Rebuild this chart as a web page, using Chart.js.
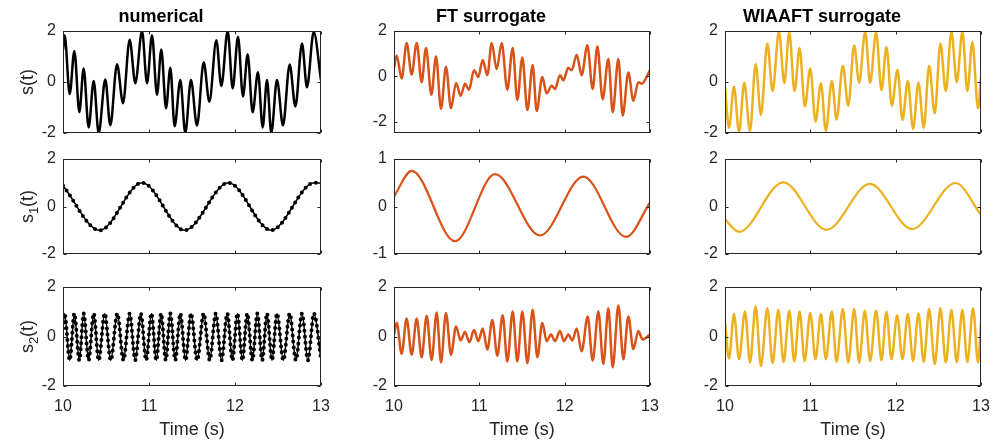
<!DOCTYPE html>
<html>
<head>
<meta charset="utf-8">
<script src="https://cdn.jsdelivr.net/npm/chart.js@4.4.0/dist/chart.umd.min.js"></script>
<style>
  body { margin: 0; background: #fff; width: 997px; height: 444px; position: relative; overflow: hidden; }
  canvas { position: absolute; }
</style>
</head>
<body>
<script>
// ---- values (time in s, signal amplitude) ----
const timeTicks = [10, 11, 12, 13];
const ticks2 = [-2, 0, 2];
const ticks1 = [-1, 0, 1];
const colTitles = ['numerical', 'FT surrogate', 'WIAAFT surrogate'];

// numerical s(t)
const numS_t = [10.000, 10.019, 10.078, 10.132, 10.190, 10.240, 10.298, 10.357, 10.415, 10.492, 10.550, 10.628, 10.698, 10.775, 10.841, 10.919, 10.977, 11.035, 11.093, 11.143, 11.198, 11.248, 11.298, 11.364, 11.422, 11.488, 11.558, 11.636, 11.702, 11.783, 11.841, 11.915, 11.973, 12.035, 12.093, 12.147, 12.205, 12.267, 12.322, 12.372, 12.422, 12.488, 12.558, 12.636, 12.702, 12.779, 12.837, 12.915, 13.000];
const numS_y = [1.25, 1.83, -0.47, 1.22, -1.18, 0.53, -1.78, 0.04, -2.0, 0.10, -1.70, 0.70, -0.83, 1.66, -0.05, 2.0, -0.05, 1.83, -0.50, 1.27, -1.03, 0.56, -1.74, 0.08, -2.0, 0.08, -1.71, 0.77, -0.77, 1.64, -0.16, 2.0, -0.25, 1.77, -0.57, 1.09, -1.19, 0.38, -1.78, 0.08, -2.0, 0.08, -1.70, 0.69, -0.96, 1.51, -0.21, 1.96, 0.08];

// numerical s1(t)
const numS1_t = [10.0, 10.426, 10.919, 11.415, 11.924, 12.419, 12.922, 13.0];
const numS1_y = [0.87, -1.0, 1.0, -1.0, 1.0, -1.0, 1.0, 0.99];

// numerical s2(t)
const numS2_t = [10.0, 10.018, 10.078, 10.132, 10.190, 10.240, 10.298, 10.357, 10.415, 10.485, 10.555, 10.632, 10.703, 10.775, 10.840, 10.905, 10.967, 11.028, 11.085, 11.141, 11.195, 11.248, 11.305, 11.364, 11.425, 11.488, 11.560, 11.636, 11.706, 11.776, 11.843, 11.910, 11.970, 12.028, 12.086, 12.143, 12.202, 12.260, 12.316, 12.372, 12.430, 12.488, 12.562, 12.636, 12.708, 12.779, 12.848, 12.918, 13.0];
const numS2_y = [0.32, 0.93, -0.96, 0.93, -0.96, 0.93, -0.96, 0.93, -0.96, 0.93, -0.96, 0.93, -0.96, 0.93, -0.96, 0.93, -0.96, 0.93, -0.96, 0.93, -0.96, 0.93, -0.96, 0.93, -0.96, 0.93, -0.96, 0.93, -0.96, 0.93, -0.96, 0.93, -0.96, 0.93, -0.96, 0.93, -0.96, 0.93, -0.96, 0.93, -0.96, 0.93, -0.96, 0.93, -0.96, 0.93, -0.96, 0.93, -0.90];

// FT surrogate s(t)
const ftS_t = [10.0, 10.031, 10.090, 10.148, 10.207, 10.266, 10.324, 10.375, 10.438, 10.492, 10.551, 10.609, 10.668, 10.727, 10.781, 10.832, 10.879, 10.938, 10.988, 11.039, 11.094, 11.145, 11.203, 11.262, 11.328, 11.391, 11.445, 11.504, 11.563, 11.625, 11.672, 11.738, 11.789, 11.848, 11.887, 11.945, 11.984, 12.043, 12.082, 12.141, 12.199, 12.266, 12.328, 12.383, 12.445, 12.512, 12.563, 12.629, 12.680, 12.746, 12.805, 12.863, 12.902, 13.0];
const ftS_y = [0.35, 0.92, -0.10, 1.47, 0.08, 1.47, -0.26, 1.25, -0.81, 0.87, -1.43, 0.42, -1.41, -0.29, -0.86, -0.33, -0.59, 0.27, -0.03, 0.72, 0.05, 1.47, 0.32, 1.47, -0.59, 1.25, -1.04, 0.83, -1.49, 0.50, -1.53, -0.03, -0.75, -0.41, -0.56, 0.05, -0.18, 0.38, 0.27, 0.95, 0.05, 1.37, -0.56, 1.32, -1.01, 0.77, -1.58, 0.77, -1.73, 0.17, -1.08, -0.26, -0.33, 0.27];

// FT surrogate s1(t)
const ftS1_t = [10.0, 10.207, 10.715, 11.184, 11.711, 12.219, 12.719, 13.0];
const ftS1_y = [0.21, 0.75, -0.73, 0.68, -0.61, 0.63, -0.64, 0.08];

// FT surrogate s2(t)
const ftS2_t = [10.0, 10.031, 10.090, 10.148, 10.207, 10.266, 10.324, 10.383, 10.441, 10.500, 10.551, 10.609, 10.668, 10.727, 10.781, 10.832, 10.883, 10.938, 10.988, 11.039, 11.094, 11.152, 11.211, 11.273, 11.328, 11.391, 11.445, 11.504, 11.563, 11.625, 11.680, 11.738, 11.789, 11.840, 11.887, 11.945, 11.992, 12.043, 12.090, 12.141, 12.199, 12.270, 12.328, 12.395, 12.453, 12.512, 12.563, 12.629, 12.688, 12.746, 12.805, 12.863, 12.914, 13.0];
const ftS2_y = [0.08, 0.56, -0.70, 0.73, -0.74, 0.73, -0.84, 0.84, -0.95, 0.97, -1.05, 0.95, -0.74, 0.40, -0.16, 0.18, -0.23, 0.26, -0.19, 0.32, -0.53, 0.67, -0.78, 0.86, -1.01, 1.01, -1.01, 1.01, -1.08, 1.08, -0.84, 0.56, -0.19, 0.08, -0.19, 0.22, -0.19, 0.08, -0.16, 0.32, -0.60, 0.81, -0.97, 1.01, -1.11, 1.14, -1.25, 1.25, -0.92, 0.81, -0.51, 0.22, -0.12, 0.08];

// WIAAFT surrogate s(t)
const wiS_t = [10.0, 10.047, 10.105, 10.164, 10.226, 10.293, 10.359, 10.421, 10.496, 10.558, 10.632, 10.695, 10.753, 10.815, 10.874, 10.936, 10.999, 11.061, 11.124, 11.182, 11.252, 11.307, 11.381, 11.444, 11.514, 11.572, 11.643, 11.701, 11.771, 11.834, 11.892, 11.955, 12.021, 12.080, 12.142, 12.204, 12.267, 12.329, 12.392, 12.458, 12.524, 12.587, 12.653, 12.716, 12.782, 12.840, 12.899, 12.965, 13.0];
const wiS_y = [-0.19, -1.79, -0.19, -1.96, -0.03, -1.92, 0.71, -1.29, 1.51, -0.36, 1.97, -0.05, 1.95, -0.36, 1.33, -0.96, 0.53, -1.56, -0.05, -1.92, 0.04, -1.47, 0.64, -0.93, 1.44, -0.03, 1.97, -0.03, 1.95, -0.32, 1.37, -0.93, 0.48, -1.49, 0.04, -1.84, -0.03, -1.80, 0.64, -1.23, 1.51, -0.36, 1.97, 0.0, 1.97, -0.36, 1.57, -1.03, 0.2];

// WIAAFT surrogate s1(t)
const wiS1_t = [10.0, 10.164, 10.683, 11.190, 11.697, 12.193, 12.700, 13.0];
const wiS1_y = [-0.54, -1.07, 1.02, -0.98, 0.95, -0.95, 0.99, -0.35];

// WIAAFT surrogate s2(t)
const wiS2_t = [10.0, 10.047, 10.105, 10.164, 10.234, 10.293, 10.359, 10.421, 10.496, 10.558, 10.624, 10.687, 10.753, 10.812, 10.874, 10.933, 10.999, 11.061, 11.124, 11.182, 11.252, 11.307, 11.381, 11.444, 11.514, 11.572, 11.639, 11.701, 11.771, 11.834, 11.892, 11.951, 12.017, 12.080, 12.142, 12.204, 12.267, 12.329, 12.392, 12.458, 12.524, 12.587, 12.653, 12.716, 12.782, 12.840, 12.907, 12.965, 13.0];
const wiS2_y = [0.57, -0.89, 0.91, -0.92, 1.01, -1.05, 1.22, -1.19, 1.14, -1.08, 1.07, -1.03, 1.04, -1.01, 1.01, -0.99, 0.95, -0.92, 0.91, -0.92, 1.01, -1.03, 1.11, -1.05, 1.11, -1.05, 1.04, -0.99, 1.04, -0.96, 1.00, -0.92, 0.86, -0.92, 0.91, -0.99, 0.93, -1.03, 1.11, -1.12, 1.14, -1.05, 1.07, -1.03, 1.07, -1.03, 1.14, -1.05, 0.57];

// ---- layout (plot boxes in page pixels) ----
const colX = [[63, 321], [394, 650], [725, 981]];
const rowY = [[31, 133], [159, 254], [287, 386]];
const FONT = "'Liberation Sans', Arial, Helvetica, sans-serif";
const AX = '#262626';
const ORANGE = '#D95319', YELLOW = '#EDB120';

const pts = (t, y) => t.map((v, i) => ({ x: v, y: y[i] }));

function line(t, y, color, width, dotted) {
  return {
    data: pts(t, y),
    borderColor: color,
    borderWidth: width,
    pointRadius: 0,
    fill: false,
    cubicInterpolationMode: 'monotone',
    borderJoinStyle: 'round',
    borderCapStyle: dotted ? 'round' : 'butt',
    borderDash: dotted ? [0, 6] : []
  };
}

// box + inward ticks + y label with subscript (MATLAB look)
const boxPlugin = {
  id: 'mbox',
  afterDatasetsDraw(chart, args, o) {
    const { ctx, chartArea: a, scales: { x, y } } = chart;
    ctx.save();
    const L = Math.round(a.left) + 0.5, R = Math.round(a.right) - 0.5;
    const T = Math.round(a.top) + 0.5, B = Math.round(a.bottom) - 0.5;
    ctx.strokeStyle = AX;
    ctx.lineWidth = 1;
    ctx.strokeRect(L, T, R - L, B - T);
    ctx.beginPath();
    timeTicks.forEach(v => {
      const px = Math.round(x.getPixelForValue(v)) + 0.5;
      ctx.moveTo(px, B); ctx.lineTo(px, B - 3);
      ctx.moveTo(px, T); ctx.lineTo(px, T + 3);
    });
    o.yTicks.forEach(v => {
      const py = Math.round(y.getPixelForValue(v)) + 0.5;
      ctx.moveTo(L, py); ctx.lineTo(L + 3, py);
      ctx.moveTo(R, py); ctx.lineTo(R - 3, py);
    });
    ctx.stroke();
    if (o.label) {
      ctx.translate(a.left - 35, (a.top + a.bottom) / 2);
      ctx.rotate(-Math.PI / 2);
      ctx.fillStyle = AX;
      ctx.textBaseline = 'middle';
      ctx.textAlign = 'left';
      const big = '18px ' + FONT, small = '13px ' + FONT;
      ctx.font = big;
      const w1 = ctx.measureText('s').width, w3 = ctx.measureText('(t)').width;
      ctx.font = small;
      const w2 = o.sub ? ctx.measureText(o.sub).width : 0;
      let xx = -(w1 + w2 + w3) / 2;
      ctx.font = big; ctx.fillText('s', xx, 0); xx += w1;
      if (o.sub) { ctx.font = small; ctx.fillText(o.sub, xx, 6); xx += w2; }
      ctx.font = big; ctx.fillText('(t)', xx, 0);
    }
    ctx.restore();
  }
};

function addPanel(r, c, datasets, ymin, ymax, yTicks, label, sub) {
  const [L, R] = colX[c], [T, B] = rowY[r];
  const w = R - L + 124, h = B - T + 88;
  const cv = document.createElement('canvas');
  cv.width = w; cv.height = h;
  cv.style.left = (L - 62) + 'px'; cv.style.top = (T - 30) + 'px';
  cv.style.width = w + 'px'; cv.style.height = h + 'px';
  document.body.appendChild(cv);
  const bottomRow = r === 2, topRow = r === 0;
  new Chart(cv, {
    type: 'line',
    data: { datasets },
    plugins: [boxPlugin],
    options: {
      responsive: false,
      animation: false,
      devicePixelRatio: 1,
      events: [],
      layout: { padding: { left: 0, right: 62, top: topRow ? 0 : 30, bottom: 0 } },
      plugins: {
        legend: { display: false },
        tooltip: { enabled: false },
        title: {
          display: topRow,
          text: colTitles[c],
          color: '#000',
          font: { family: FONT, size: 18, weight: 'bold' },
          lineHeight: 1.2,
          padding: { top: 5.5, bottom: 2.9 }
        },
        mbox: { yTicks, label, sub }
      },
      scales: {
        x: {
          type: 'linear', min: 10, max: 13,
          afterBuildTicks: s => { s.ticks = timeTicks.map(v => ({ value: v })); },
          afterFit: s => { s.height = 58; },
          grid: { display: false, drawTicks: false },
          border: { display: false },
          ticks: { display: bottomRow, padding: 11, color: AX, font: { family: FONT, size: 16 } },
          title: { display: bottomRow, text: 'Time (s)', color: AX, font: { family: FONT, size: 18 }, padding: { top: 0, bottom: 3 } }
        },
        y: {
          min: ymin, max: ymax,
          afterBuildTicks: s => { s.ticks = yTicks.map(v => ({ value: v })); },
          afterFit: s => { s.width = 62; },
          grid: { display: false, drawTicks: false },
          border: { display: false },
          ticks: { padding: 7, color: AX, font: { family: FONT, size: 16 } }
        }
      }
    }
  });
}

// row 1: s(t)
addPanel(0, 0, [line(numS_t, numS_y, '#000', 2.5)], -2, 2, ticks2, true, '');
addPanel(0, 1, [line(ftS_t, ftS_y, ORANGE, 2.5)], -2.5, 2, ticks2, false);
addPanel(0, 2, [line(wiS_t, wiS_y, YELLOW, 2.5)], -2, 2, ticks2, false);
// row 2: s1(t)
addPanel(1, 0, [line(numS1_t, numS1_y, '#000', 1.5), line(numS1_t, numS1_y, '#000', 4, true)], -2, 2, ticks2, true, '1');
addPanel(1, 1, [line(ftS1_t, ftS1_y, ORANGE, 2.2)], -1, 1, ticks1, false);
addPanel(1, 2, [line(wiS1_t, wiS1_y, YELLOW, 2.2)], -2, 2, ticks2, false);
// row 3: s2(t)
addPanel(2, 0, [line(numS2_t, numS2_y, '#000', 1.5), line(numS2_t, numS2_y, '#000', 4, true)], -2, 2, ticks2, true, '2');
addPanel(2, 1, [line(ftS2_t, ftS2_y, ORANGE, 2.5)], -2, 2, ticks2, false);
addPanel(2, 2, [line(wiS2_t, wiS2_y, YELLOW, 2.5)], -2, 2, ticks2, false);
</script>
</body>
</html>
